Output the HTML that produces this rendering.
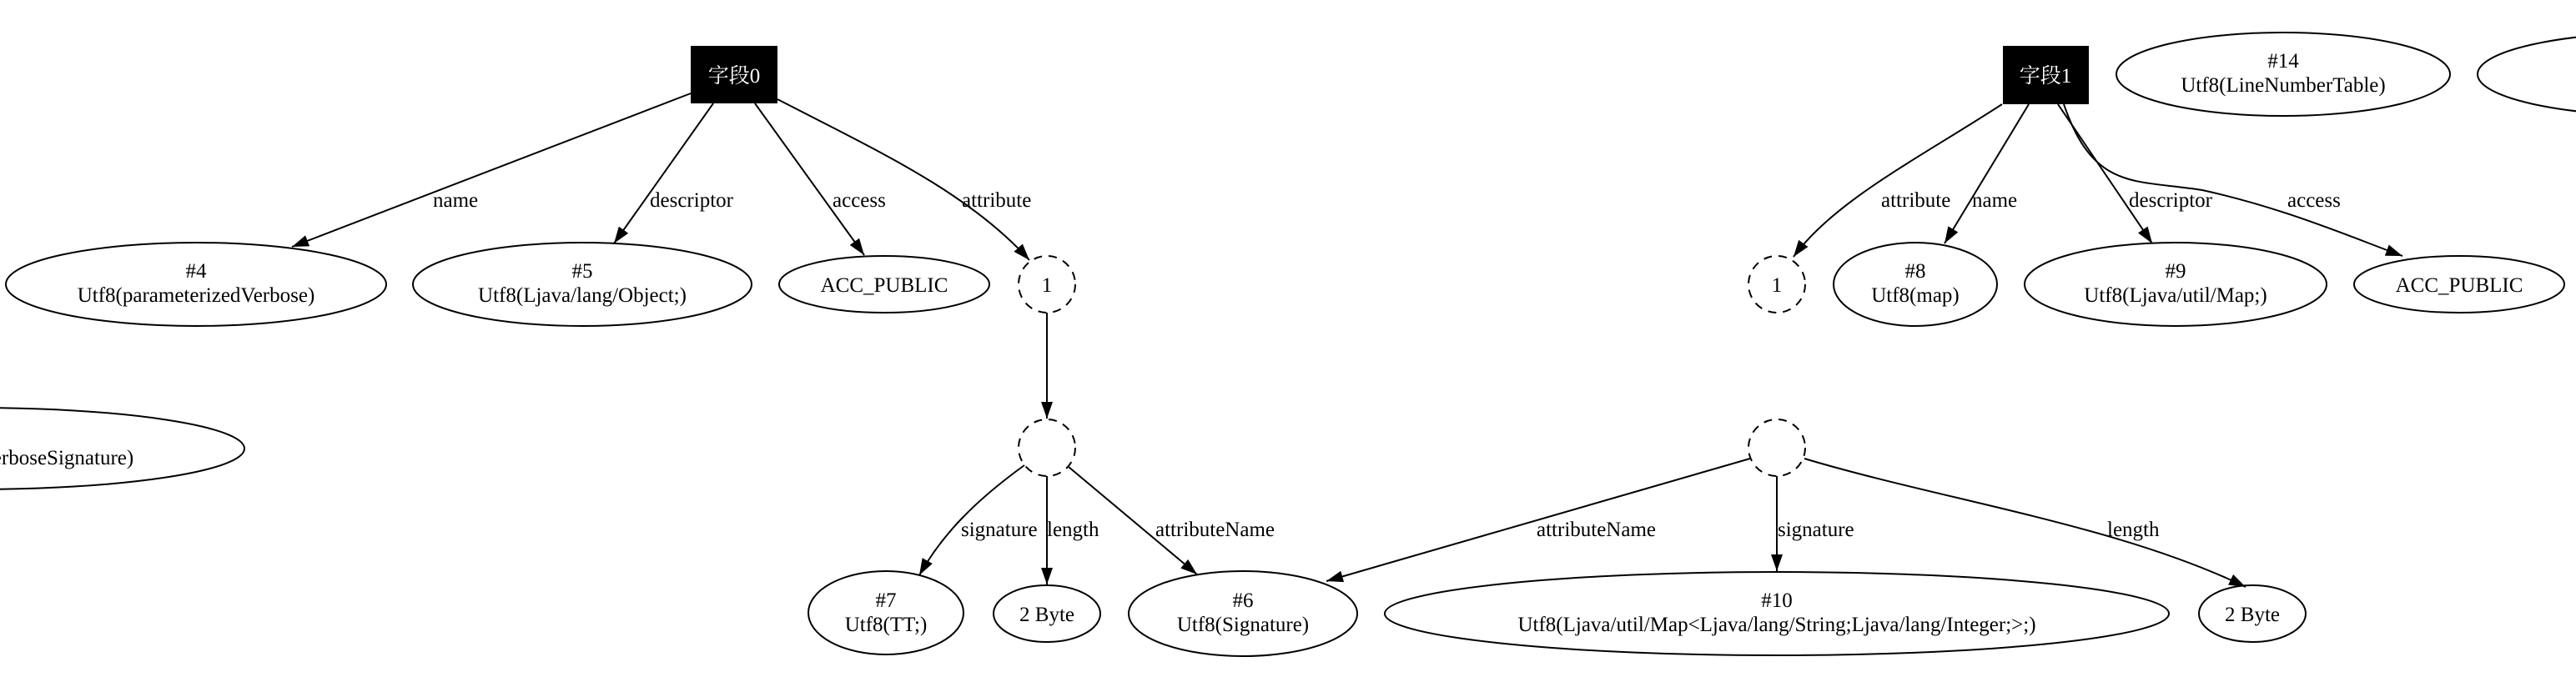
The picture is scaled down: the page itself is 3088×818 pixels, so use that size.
<!DOCTYPE html>
<html><head><meta charset="utf-8"><style>
html,body{margin:0;padding:0;background:#fff;}
svg{display:block;}
text{font-family:"Liberation Serif","Noto Serif CJK SC",serif;font-size:25px;fill:#000;}
</style></head><body>
<svg width="3088" height="818" viewBox="0 0 3088 818" xmlns="http://www.w3.org/2000/svg">
<defs>
<marker id="b" viewBox="0 0 20 14" refX="20" refY="7" markerWidth="20" markerHeight="14" markerUnits="userSpaceOnUse" orient="auto"><path d="M0,0 L20,7 L0,14 z" fill="#000"/></marker></defs>
<g fill="none" stroke="#000" stroke-width="2">
<ellipse cx="-30" cy="538" rx="323" ry="49"/>
<ellipse cx="235" cy="341" rx="228" ry="50"/>
<ellipse cx="698" cy="341" rx="203" ry="50"/>
<ellipse cx="1060" cy="341" rx="126" ry="34"/>
<ellipse cx="1255" cy="341" rx="34" ry="34" stroke-dasharray="10,8"/>
<ellipse cx="1255" cy="537" rx="34" ry="34" stroke-dasharray="10,8"/>
<ellipse cx="1062" cy="735" rx="93" ry="50"/>
<ellipse cx="1255" cy="736" rx="64" ry="34"/>
<ellipse cx="1490" cy="736" rx="137" ry="51"/>
<ellipse cx="2130" cy="736" rx="470" ry="50"/>
<ellipse cx="2700" cy="736" rx="64" ry="34"/>
<ellipse cx="2130" cy="341" rx="34" ry="34" stroke-dasharray="10,8"/>
<ellipse cx="2130" cy="537" rx="34" ry="34" stroke-dasharray="10,8"/>
<ellipse cx="2296" cy="341" rx="98" ry="50"/>
<ellipse cx="2608" cy="341" rx="181" ry="50"/>
<ellipse cx="2948" cy="341" rx="126" ry="34"/>
<ellipse cx="2737" cy="89" rx="200" ry="50"/>
<ellipse cx="3190" cy="89" rx="220" ry="50"/>
<path d="M828,112 L350,296" marker-end="url(#b)"/>
<path d="M855,124 L736,292" marker-end="url(#b)"/>
<path d="M905,124 L1036,306" marker-end="url(#b)"/>
<path d="M932,119 C1050,180 1160,230 1234,312" marker-end="url(#b)"/>
<path d="M1255,375 L1255,502" marker-end="url(#b)"/>
<path d="M1228,558 C1170,600 1130,640 1102,690" marker-end="url(#b)"/>
<path d="M1255,571 L1255,701" marker-end="url(#b)"/>
<path d="M1281,560 L1435,689" marker-end="url(#b)"/>
<path d="M2400,125 C2300,190 2200,240 2150,308" marker-end="url(#b)"/>
<path d="M2432,125 L2331,292" marker-end="url(#b)"/>
<path d="M2467,125 L2580,292" marker-end="url(#b)"/>
<path d="M2474,125 C2510,230 2560,215 2640,228 C2740,250 2820,285 2880,307" marker-end="url(#b)"/>
<path d="M2098,550 L1590,697" marker-end="url(#b)"/>
<path d="M2130,571 L2130,685" marker-end="url(#b)"/>
<path d="M2163,550 C2330,600 2540,630 2692,704" marker-end="url(#b)"/>
</g>
<rect x="828" y="55" width="104" height="69" fill="#000"/>
<rect x="2401" y="55" width="103" height="70" fill="#000"/>
<g text-anchor="middle">
<text x="880" y="99" style="fill:#fff">字段0</text>
<text x="2452" y="99" style="fill:#fff">字段1</text>
<text x="235" y="333">#4</text><text x="235" y="362">Utf8(parameterizedVerbose)</text>
<text x="698" y="333">#5</text><text x="698" y="362">Utf8(Ljava/lang/Object;)</text>
<text x="1060" y="350">ACC_PUBLIC</text>
<text x="1255" y="350">1</text>
<text x="-30" y="520">#12</text><text x="-30" y="557">Utf8(parameterizedVerboseSignature)</text>
<text x="1062" y="728">#7</text><text x="1062" y="757">Utf8(TT;)</text>
<text x="1255" y="745">2 Byte</text>
<text x="1490" y="728">#6</text><text x="1490" y="757">Utf8(Signature)</text>
<text x="2130" y="728">#10</text><text x="2130" y="757">Utf8(Ljava/util/Map&lt;Ljava/lang/String;Ljava/lang/Integer;&gt;;)</text>
<text x="2700" y="745">2 Byte</text>
<text x="2130" y="350">1</text>
<text x="2296" y="333">#8</text><text x="2296" y="362">Utf8(map)</text>
<text x="2608" y="333">#9</text><text x="2608" y="362">Utf8(Ljava/util/Map;)</text>
<text x="2948" y="350">ACC_PUBLIC</text>
<text x="2737" y="81">#14</text><text x="2737" y="110">Utf8(LineNumberTable)</text>
<text x="3190" y="81">#13</text><text x="3190" y="110">Utf8(SourceFile)</text>
</g>
<g>
<text x="519" y="248">name</text>
<text x="779" y="248">descriptor</text>
<text x="998" y="248">access</text>
<text x="1153" y="248">attribute</text>
<text x="1152" y="643">signature</text>
<text x="1255" y="643">length</text>
<text x="1385" y="643">attributeName</text>
<text x="2255" y="248">attribute</text>
<text x="2364" y="248">name</text>
<text x="2552" y="248">descriptor</text>
<text x="2742" y="248">access</text>
<text x="1842" y="643">attributeName</text>
<text x="2131" y="643">signature</text>
<text x="2526" y="643">length</text>
</g>
</svg>
</body></html>
